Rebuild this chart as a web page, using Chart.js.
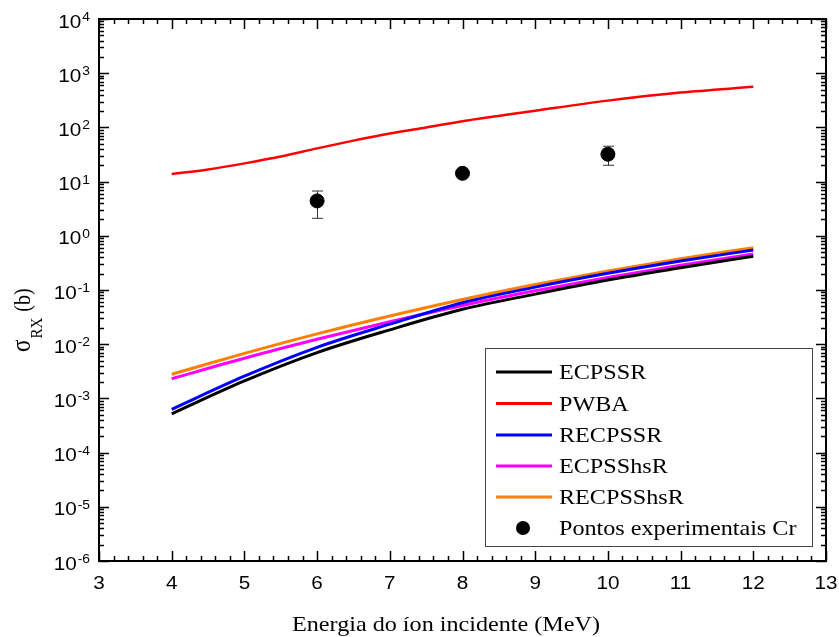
<!DOCTYPE html>
<html lang="pt">
<head>
<meta charset="utf-8">
<title>Seções de choque σRX — Cr</title>
<script src="https://cdn.jsdelivr.net/npm/chart.js@4.4.1/dist/chart.umd.min.js"></script>
<style>
    html, body { margin: 0; padding: 0; background: #fff; }
    #grafico { display: block; }
</style>
</head>
<body>
<canvas id="grafico" width="839" height="637"></canvas>
<script>
// ============================================================
// Seção de choque de raios X (σRX) vs energia do íon incidente
// ============================================================

// --- 1. DADOS ---
const energias     = [4, 5, 6, 7, 8, 9, 10, 11, 12];
const ecpssr       = [5.2e-4, 2.1e-3, 7.0e-3, 0.0184, 0.044, 0.084, 0.153, 0.257, 0.42];
const recpssr      = [6.3e-4, 2.57e-3, 8.75e-3, 0.0234, 0.0583, 0.113, 0.203, 0.343, 0.547];
const ecpsshsr     = [2.31e-3, 5.5e-3, 0.0123, 0.026, 0.0519, 0.0966, 0.17, 0.285, 0.461];
const recpsshsr    = [2.79e-3, 6.76e-3, 0.0155, 0.0331, 0.0668, 0.126, 0.224, 0.376, 0.604];

const energiasPWBA = [4, 4.5, 5, 5.5, 6, 6.5, 7, 7.5, 8, 9, 10, 11, 12];
const pwba         = [13.8, 16.8, 21.7, 29, 41, 57, 77, 100, 130, 203, 312, 440, 560];

// Pontos experimentais (Cr) com barras de erro
const energiasExp  = [6, 8, 10];
const sigmaExp     = [4.4, 14.2, 32];
const erroInferior = [2.1, 13.0, 20];
const erroSuperior = [6.7, 15.5, 45];

// Rótulos dos eixos
const ticksX       = [3, 4, 5, 6, 7, 8, 9, 10, 11, 12, 13];
const expoentesY   = [-6, -5, -4, -3, -2, -1, 0, 1, 2, 3, 4];

const ESTICA = 1.15; // a figura original está esticada na horizontal


// --- 2. AUXILIARES ---
const pares = (xs, ys) => xs.map((x, i) => ({ x: x, y: ys[i] }));

// Texto com esticamento horizontal
function texto(ctx, str, x, y, fonte, alinhar) {
    ctx.save();
    ctx.font = fonte;
    const w = ctx.measureText(str).width * ESTICA;
    let x0 = x;
    if (alinhar === 'center') x0 = x - w / 2;
    if (alinhar === 'right')  x0 = x - w;
    ctx.translate(x0, y);
    ctx.scale(ESTICA, 1);
    ctx.textAlign = 'left';
    ctx.textBaseline = 'alphabetic';
    ctx.fillText(str, 0, 0);
    ctx.restore();
    return w;
}

function serie(rotulo, xs, ys, cor, largura) {
    return {
        label: rotulo,
        data: pares(xs, ys),
        borderColor: cor,
        backgroundColor: cor,
        borderWidth: largura,
        pointRadius: 0,
        fill: false,
        cubicInterpolationMode: 'monotone'
    };
}


// --- 3. PLUGIN: barras de erro, moldura, ticks internos, rótulos, legenda ---
const pluginMoldura = {
    id: 'moldura',

    // Barras de erro por baixo dos marcadores
    beforeDatasetsDraw(chart) {
        const ctx = chart.ctx;
        const sx = chart.scales.x;
        const sy = chart.scales.y;
        ctx.save();
        ctx.lineWidth = 1;
        ctx.strokeStyle = '#333';
        energiasExp.forEach((e, i) => {
            const px = Math.round(sx.getPixelForValue(e)) + 0.5;
            const yLo = sy.getPixelForValue(erroInferior[i]);
            const yHi = sy.getPixelForValue(erroSuperior[i]);
            ctx.beginPath();
            ctx.moveTo(px, yLo); ctx.lineTo(px, yHi);
            ctx.moveTo(px - 5.5, yLo); ctx.lineTo(px + 5.5, yLo);
            ctx.moveTo(px - 5.5, yHi); ctx.lineTo(px + 5.5, yHi);
            ctx.stroke();
        });
        ctx.restore();
    },

    afterDraw(chart) {
        const ctx = chart.ctx;
        const a = chart.chartArea;
        const sx = chart.scales.x;
        const sy = chart.scales.y;

        ctx.save();
        ctx.strokeStyle = '#000';
        ctx.fillStyle = '#000';

        // Moldura
        ctx.lineWidth = 2;
        ctx.strokeRect(a.left, a.top, a.right - a.left, a.bottom - a.top);

        // Ticks do eixo x (embaixo e em cima, para dentro)
        ctx.lineWidth = 1.5;
        ctx.beginPath();
        for (let v = 3; v <= 13.001; v += 0.2) {
            const px = Math.round(sx.getPixelForValue(v)) + 0.5;
            const maior = Math.abs(v - Math.round(v)) < 1e-6;
            const len = maior ? 10 : 5;
            ctx.moveTo(px, a.bottom); ctx.lineTo(px, a.bottom - len);
            ctx.moveTo(px, a.top);    ctx.lineTo(px, a.top + len);
        }
        // Ticks do eixo y (log, esquerda e direita)
        for (let e = -6; e <= 4; e++) {
            for (let m = 1; m <= 9; m++) {
                if (e === 4 && m > 1) break;
                const py = Math.round(sy.getPixelForValue(m * Math.pow(10, e))) + 0.5;
                const len = m === 1 ? 10 : 5;
                ctx.moveTo(a.left, py);  ctx.lineTo(a.left + len, py);
                ctx.moveTo(a.right, py); ctx.lineTo(a.right - len, py);
            }
        }
        ctx.stroke();

        // Rótulos do eixo x
        ticksX.forEach(v => {
            texto(ctx, String(v), sx.getPixelForValue(v), 589, '18px "Liberation Sans", Arial, sans-serif', 'center');
        });

        // Rótulos do eixo y: 10 com expoente
        expoentesY.forEach(e => {
            const py = sy.getPixelForValue(Math.pow(10, e));
            ctx.font = '12px "Liberation Sans", Arial, sans-serif';
            const wExp = ctx.measureText(String(e)).width * ESTICA;
            const direita = 90;
            texto(ctx, String(e), direita - wExp, py + 2, '12px "Liberation Sans", Arial, sans-serif', 'left');
            texto(ctx, '10', direita - wExp - 1, py + 8.5, '18px "Liberation Sans", Arial, sans-serif', 'right');
        });

        // Título do eixo x
        texto(ctx, 'Energia do íon incidente (MeV)', 446, 631, '21px "Liberation Serif", "Times New Roman", serif', 'center');

        // Título do eixo y: σ_RX (b), girado
        ctx.save();
        ctx.translate(30, 352);
        ctx.rotate(-Math.PI / 2);
        ctx.scale(1, ESTICA);
        ctx.textAlign = 'left';
        ctx.font = '23px "Liberation Serif", "Times New Roman", serif';
        ctx.fillText('σ', 0, 0);
        let dx = ctx.measureText('σ').width + 1;
        ctx.font = '15px "Liberation Serif", "Times New Roman", serif';
        ctx.fillText('RX', dx, 10);
        dx += ctx.measureText('RX').width + 6;
        ctx.font = '20px "Liberation Serif", "Times New Roman", serif';
        ctx.fillText('(b)', dx, 0);
        ctx.restore();

        // Legenda (caixa no canto inferior direito)
        const lx = 485.5, ly = 348.5, lw = 327, lh = 198;
        ctx.fillStyle = '#fff';
        ctx.fillRect(lx, ly, lw, lh);
        ctx.strokeStyle = '#444';
        ctx.lineWidth = 1;
        ctx.strokeRect(lx, ly, lw, lh);

        const linhasY = [372, 403.5, 435, 466, 497, 528];
        chart.data.datasets.forEach((ds, i) => {
            const yy = linhasY[i];
            if (ds.showLine === false) {
                ctx.fillStyle = ds.pointBackgroundColor;
                ctx.beginPath();
                ctx.arc(523, yy, 7, 0, Math.PI * 2);
                ctx.fill();
            } else {
                ctx.strokeStyle = ds.borderColor;
                ctx.lineWidth = 3;
                ctx.beginPath();
                ctx.moveTo(496, yy); ctx.lineTo(552, yy);
                ctx.stroke();
            }
            ctx.fillStyle = '#000';
            texto(ctx, ds.label, 559, yy + 7, '21px "Liberation Serif", "Times New Roman", serif', 'left');
        });

        ctx.restore();
    }
};


// --- 4. GRÁFICO ---
const conjuntos = [
    serie('ECPSSR',    energias,     ecpssr,    '#000000', 3),
    serie('PWBA',      energiasPWBA, pwba,      '#ff0000', 2.5),
    serie('RECPSSR',   energias,     recpssr,   '#0000ff', 3),
    serie('ECPSShsR',  energias,     ecpsshsr,  '#ff00ff', 3),
    serie('RECPSShsR', energias,     recpsshsr, '#ff8000', 3),
    {
        label: 'Pontos experimentais Cr',
        data: pares(energiasExp, sigmaExp),
        showLine: false,
        pointRadius: 7,
        pointHoverRadius: 7,
        pointBackgroundColor: '#000000',
        pointBorderColor: '#000000',
        borderColor: '#000000',
        backgroundColor: '#000000'
    }
];

new Chart(document.getElementById('grafico').getContext('2d'), {
    type: 'line',
    data: { datasets: conjuntos },
    options: {
        responsive: false,
        animation: false,
        layout: { padding: { left: 0, right: 13, top: 19, bottom: 0 } },
        plugins: {
            legend: { display: false },
            tooltip: { enabled: false }
        },
        scales: {
            x: {
                type: 'linear',
                min: 3,
                max: 13,
                grid: { display: false },
                border: { display: false },
                ticks: { display: false },
                afterFit(s) { s.height = 76; }
            },
            y: {
                type: 'logarithmic',
                min: 1e-6,
                max: 1e4,
                grid: { display: false },
                border: { display: false },
                ticks: { display: false },
                afterFit(s) { s.width = 99; }
            }
        }
    },
    plugins: [pluginMoldura]
});
</script>
</body>
</html>
